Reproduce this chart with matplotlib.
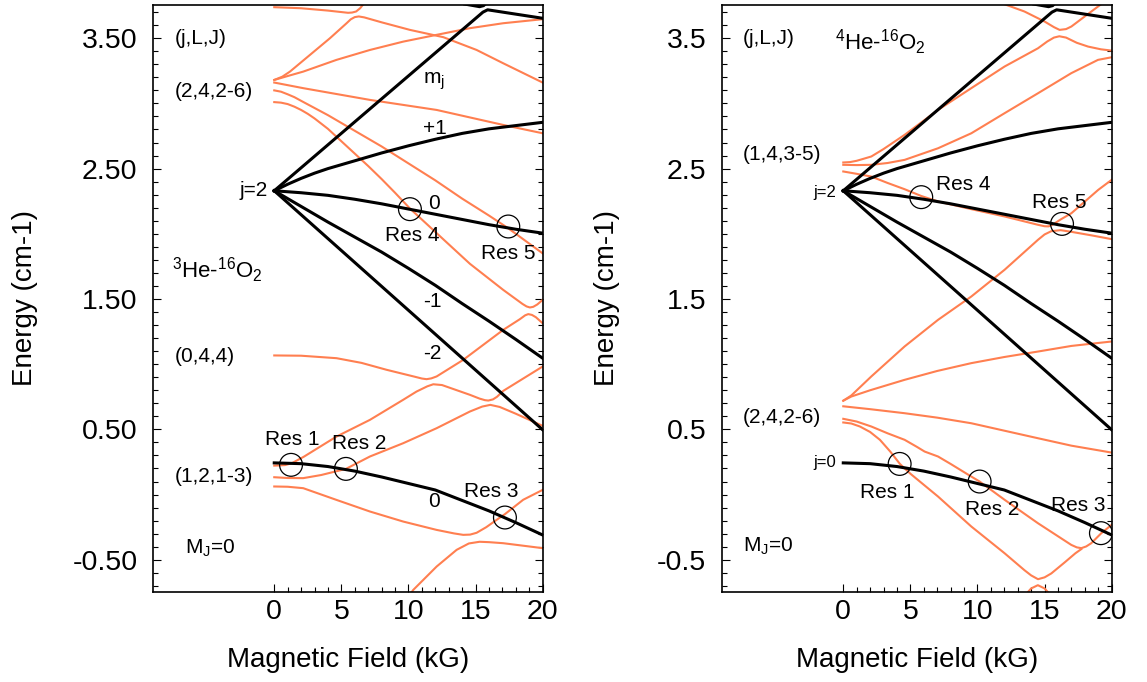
# Zeeman levels of He-O2 complexes, two panels (3He and 4He)

import matplotlib.pyplot as plt
import numpy as np

plt.rcParams['font.family'] = ['Liberation Sans', 'DejaVu Sans']
plt.rcParams['mathtext.default'] = 'regular'

ORANGE = '#ff7f50'

# ---- black curves, j=2 and j=0 manifolds (same in both panels) ----
blk_up_B = [0, 15.55, 15.9, 20]
blk_up_E = [2.33, 3.70, 3.718, 3.653]
blk_top_B = [14.2, 15.3, 15.6, 16.1]
blk_top_E = [3.762, 3.742, 3.75, 3.80]
blk_p1_B = [0, 1, 2, 3, 4, 6, 8, 10, 12, 14, 16, 18, 20]
blk_p1_E = [2.33, 2.38, 2.425, 2.465, 2.50, 2.56, 2.62, 2.675, 2.725, 2.77, 2.805, 2.83, 2.855]
blk_0_B = [0, 2, 4, 6, 8, 10, 12, 14, 16, 18, 20]
blk_0_E = [2.33, 2.315, 2.295, 2.265, 2.23, 2.19, 2.15, 2.11, 2.07, 2.035, 2.005]
blk_m1_B = [0, 2, 4, 6, 8, 10, 12, 14, 16, 18, 20]
blk_m1_E = [2.33, 2.21, 2.09, 1.975, 1.86, 1.735, 1.605, 1.465, 1.33, 1.19, 1.046]
blk_m2_B = [0, 20]
blk_m2_E = [2.33, 0.497]
blk_j0_B = [0, 2, 4, 6, 8, 10, 12, 14, 16, 18, 20]
blk_j0_E = [0.243, 0.237, 0.215, 0.18, 0.135, 0.085, 0.035, -0.045, -0.125, -0.215, -0.31]

# ---- orange curves, 3He-16O2 ----
l_top_B = [0, 2, 4, 5.5, 5.8, 6.1, 6.4, 6.9]
l_top_E = [3.738, 3.73, 3.712, 3.695, 3.697, 3.705, 3.73, 3.795]
l_steep_B = [0, 0.6, 1.17, 2.66, 4.15, 5.39, 5.7, 6.0, 6.3, 6.7, 8, 10.11, 12.6, 15.08, 17.06, 20]
l_steep_E = [3.18, 3.205, 3.244, 3.372, 3.50, 3.615, 3.645, 3.662, 3.667, 3.66, 3.622, 3.564, 3.508, 3.41, 3.308, 3.16]
l_rise_B = [0, 1, 2.16, 4.64, 7.13, 9.61, 12.1, 14.58, 17.06, 20]
l_rise_E = [3.18, 3.21, 3.244, 3.334, 3.41, 3.474, 3.526, 3.577, 3.615, 3.646]
l_4_B = [0, 2.16, 7.13, 12.1, 17.06, 20]
l_4_E = [3.16, 3.117, 3.027, 2.95, 2.835, 2.771]
l_a_B = [0, 0.5, 1, 1.5, 2, 3, 4, 6, 8, 10, 12, 14, 16, 17.4, 20]
l_a_E = [3.10, 3.09, 3.07, 3.048, 3.02, 2.965, 2.91, 2.79, 2.67, 2.54, 2.41, 2.27, 2.14, 2.045, 1.85]
l_b_B = [0, 0.5, 1, 1.5, 2, 2.5, 3, 3.5, 4, 5, 6, 7, 8, 9, 10.1, 12.1, 14.58,
         17.06, 18.5, 18.8, 19.05, 19.3, 19.6, 20]
l_b_E = [3.01, 3.006, 2.995, 2.975, 2.95, 2.92, 2.885, 2.845, 2.805, 2.71, 2.615, 2.52, 2.42, 2.315, 2.195, 2.005, 1.77,
         1.57, 1.462, 1.443, 1.435, 1.44, 1.458, 1.493]
l_044_B = [0, 2, 4.64, 6.5, 8.37, 10.5, 11.0, 11.35, 11.7, 12.1, 14.08, 17.06, 18.3, 18.7, 18.93, 19.2, 19.5, 20]
l_044_E = [1.067, 1.065, 1.046, 1.01, 0.957, 0.903, 0.89, 0.885, 0.891, 0.906, 1.033, 1.263, 1.345, 1.375, 1.384, 1.378, 1.36, 1.314]
l_r1_B = [0, 0.8, 1.3, 2.2, 3.3, 4.64, 7.13, 9.61, 10.6, 11.4, 11.85, 12.5, 14.58, 15.3, 15.7,
          15.95, 16.3, 16.6, 17.06, 20]
l_r1_E = [0.222, 0.226, 0.24, 0.29, 0.36, 0.445, 0.573, 0.727, 0.79, 0.83, 0.846, 0.84, 0.765, 0.736, 0.724,
          0.721, 0.73, 0.75, 0.795, 0.982]
l_r2_B = [0, 1, 2.16, 3.5, 5.34, 7.13, 9.61, 12.1, 14.58, 15.5, 16.1, 16.8, 18, 20]
l_r2_E = [0.133, 0.127, 0.126, 0.15, 0.197, 0.292, 0.394, 0.509, 0.637, 0.675, 0.688, 0.672, 0.62, 0.527]
l_c_B = [0, 1, 2.16, 4.64, 7.13, 9.61, 12.1, 13.4, 14.08, 14.6, 15.08, 15.8, 16.57, 17.19, 18.55, 20]
l_c_E = [0.062, 0.06, 0.049, -0.041, -0.13, -0.207, -0.271, -0.298, -0.309, -0.307, -0.293, -0.25, -0.194, -0.15, -0.04, 0.036]
l_d_B = [9.9, 10.36, 12.1, 13.59, 14.5, 15.3, 16, 17.06, 20]
l_d_E = [-0.80, -0.731, -0.552, -0.424, -0.375, -0.362, -0.365, -0.373, -0.411]

# ---- orange curves, 4He-16O2 ----
r_top_B = [11.5, 13.5, 15.0, 15.7, 16.12, 16.6, 17.0, 17.98, 18.98, 19.47]
r_top_E = [3.78, 3.705, 3.628, 3.585, 3.564, 3.57, 3.59, 3.666, 3.743, 3.78]
r_rise1_B = [0, 0.5, 1, 1.5, 2.09, 3, 4.57, 7.06, 9.54, 12.02, 14.51, 15.2, 15.7, 16.1, 16.6, 17.4, 18.24, 19.2, 20]
r_rise1_E = [2.547, 2.55, 2.56, 2.575, 2.593, 2.65, 2.759, 2.95, 3.117, 3.283, 3.423, 3.475, 3.505, 3.515, 3.505, 3.465, 3.436, 3.415, 3.405]
r_rise2_B = [0, 1, 2.09, 3.3, 4.57, 7.06, 9.54, 12.02, 14.51, 16.99, 18.98, 20]
r_rise2_E = [2.529, 2.527, 2.529, 2.543, 2.567, 2.656, 2.771, 2.925, 3.078, 3.232, 3.334, 3.354]
r_desc_B = [0, 1, 2.09, 3.3, 4.57, 5.81, 7.06, 9.54, 12.02, 14.51, 15.0, 15.3, 15.6, 16.2, 17, 19, 20]
r_desc_E = [2.478, 2.46, 2.439, 2.39, 2.342, 2.29, 2.248, 2.189, 2.133, 2.069, 2.058, 2.057, 2.07, 2.11, 2.158, 2.337, 2.414]
r_cross_B = [0, 0.6, 2.09, 4.57, 7.06, 9.54, 12.02, 14.51, 15.0, 15.5, 16.2, 17, 18.5, 20]
r_cross_E = [0.72, 0.76, 0.906, 1.136, 1.34, 1.519, 1.724, 1.954, 1.995, 2.02, 2.028, 2.015, 1.988, 1.959]
r_slow_B = [0, 0.6, 2, 4.57, 7, 9.54, 12, 14.51, 17, 20]
r_slow_E = [0.72, 0.752, 0.80, 0.88, 0.948, 1.008, 1.055, 1.097, 1.14, 1.174]
r_flat_B = [0, 2, 4.57, 7, 9.54, 12, 14.51, 17, 20]
r_flat_E = [0.677, 0.655, 0.624, 0.59, 0.547, 0.49, 0.432, 0.375, 0.322]
r_d1_B = [0, 1, 2.09, 3.3, 4.57, 5.5, 6.06, 7.06, 8, 9.54, 10.16, 12.02, 14.51, 16.99, 17.4, 17.74, 18.1, 18.48, 19.23, 20]
r_d1_E = [0.581, 0.56, 0.522, 0.47, 0.42, 0.365, 0.33, 0.292, 0.235, 0.138, 0.10, -0.04, -0.22, -0.386, -0.405, -0.411, -0.398, -0.373, -0.296, -0.232]
r_d2_B = [0, 0.6, 1.24, 2, 2.73, 3.5, 4.22, 5, 7.06, 9.54, 12.02, 13.5, 14.0, 14.51, 15.0, 15.5, 16.5, 17.3, 17.74]
r_d2_E = [0.553, 0.545, 0.522, 0.48, 0.42, 0.33, 0.235, 0.16, -0.015, -0.245, -0.45, -0.58, -0.62, -0.649, -0.635, -0.605, -0.52, -0.45, -0.418]
r_arch_B = [13.3, 14.0, 14.5, 15.0, 15.7]
r_arch_E = [-0.80, -0.72, -0.695, -0.72, -0.80]

# resonance circles
l_res_B = [1.25, 5.34, 17.19, 10.11, 17.44]
l_res_E = [0.228, 0.197, -0.176, 2.189, 2.056]
r_res_B = [4.2, 10.16, 19.2, 5.81, 16.3]
r_res_E = [0.235, 0.10, -0.296, 2.281, 2.076]
res_names = ['Res 1', 'Res 2', 'Res 3', 'Res 4', 'Res 5']

# where the res labels sit (left edge, vertical centre)
l_lab_B = [-0.7, 4.27, 14.13, 8.25, 15.38]
l_lab_E = [0.42, 0.394, 0.023, 1.987, 1.846]
r_lab_B = [1.22, 9.04, 15.5, 6.93, 14.06]
r_lab_E = [0.018, -0.117, -0.084, 2.375, 2.242]

yticks = [-0.5, 0.5, 1.5, 2.5, 3.5]
l_yticklabels = ['-0.50', '0.50', '1.50', '2.50', '3.50']
r_yticklabels = ['-0.5', '0.5', '1.5', '2.5', '3.5']

black_curves = [(blk_up_B, blk_up_E), (blk_top_B, blk_top_E), (blk_p1_B, blk_p1_E),
                (blk_0_B, blk_0_E), (blk_m1_B, blk_m1_E), (blk_m2_B, blk_m2_E),
                (blk_j0_B, blk_j0_E)]
left_curves = [(l_top_B, l_top_E), (l_steep_B, l_steep_E), (l_rise_B, l_rise_E),
               (l_4_B, l_4_E), (l_a_B, l_a_E), (l_b_B, l_b_E), (l_044_B, l_044_E),
               (l_r1_B, l_r1_E), (l_r2_B, l_r2_E), (l_c_B, l_c_E), (l_d_B, l_d_E)]
right_curves = [(r_top_B, r_top_E), (r_rise1_B, r_rise1_E), (r_rise2_B, r_rise2_E),
                (r_desc_B, r_desc_E), (r_cross_B, r_cross_E), (r_slow_B, r_slow_E),
                (r_flat_B, r_flat_E), (r_d1_B, r_d1_E), (r_d2_B, r_d2_E),
                (r_arch_B, r_arch_E)]


def setup(ax, ylabels, ylab_x):
    ax.set_xlim(-9.06, 20)
    ax.set_ylim(-0.745, 3.755)
    ax.set_xticks([0, 5, 10, 15, 20])
    ax.set_xticks(np.arange(0, 21, 1), minor=True)
    ax.set_yticks(yticks)
    ax.set_yticklabels(ylabels)
    ax.set_yticks(np.arange(-0.7, 3.75, 0.1), minor=True)
    ax.tick_params(which='both', direction='in', left=True, right=True,
                   top=False, bottom=True, width=0.8)
    ax.tick_params(which='major', length=6)
    ax.tick_params(which='minor', length=3.3)
    ax.tick_params(axis='y', which='major', labelsize=20.5, pad=11)
    ax.tick_params(axis='x', which='major', labelsize=20.5, pad=5)
    for sp in ax.spines.values():
        sp.set_linewidth(1.2)
    ax.set_xlabel('Magnetic Field (kG)', fontsize=20)
    ax.set_ylabel('Energy (cm-1)', fontsize=20)
    ax.xaxis.set_label_coords(0.5, -0.094)
    ax.yaxis.set_label_coords(ylab_x, 0.5)


fig = plt.figure(figsize=(11.47, 6.82), dpi=100)
ax1 = fig.add_axes([0.1331, 0.1324, 0.340, 0.8603])
ax2 = fig.add_axes([0.6292, 0.1324, 0.340, 0.8603])

for ax, curves, rb, re in [(ax1, left_curves, l_res_B, l_res_E),
                           (ax2, right_curves, r_res_B, r_res_E)]:
    for b, e in curves:
        ax.plot(b, e, color=ORANGE, lw=1.5, zorder=2)
    for b, e in black_curves:
        ax.plot(b, e, color='black', lw=2.2, zorder=3)
    ax.scatter(rb, re, s=270, facecolors='none', edgecolors='black',
               linewidths=0.9, zorder=4)

setup(ax1, l_yticklabels, -0.294)
setup(ax2, r_yticklabels, -0.262)

# left panel text
fs = 15
ax1.text(-7.4, 3.50, '(j,L,J)', fontsize=fs, va='center')
ax1.text(-7.4, 3.088, '(2,4,2-6)', fontsize=fs, va='center')
ax1.text(-0.5, 2.33, 'j=2', fontsize=fs, va='center', ha='right')
ax1.text(-7.6, 1.72, r'$^3$He-$^{16}$O$_2$', fontsize=16, va='center')
ax1.text(-7.4, 1.056, '(0,4,4)', fontsize=fs, va='center')
ax1.text(-7.4, 0.136, '(1,2,1-3)', fontsize=fs, va='center')
ax1.text(-6.65, -0.41, 'M$_J$=0', fontsize=fs, va='center')
ax1.text(11.1, 3.17, 'm$_j$', fontsize=fs, va='center')
ax1.text(11.1, 2.805, '+1', fontsize=fs, va='center')
ax1.text(11.5, 2.235, '0', fontsize=fs, va='center')
ax1.text(11.1, 1.481, '-1', fontsize=fs, va='center')
ax1.text(11.1, 1.084, '-2', fontsize=fs, va='center')
ax1.text(11.5, -0.053, '0', fontsize=fs, va='center')
for name, b, e in zip(res_names, l_lab_B, l_lab_E):
    ax1.text(b, e, name, fontsize=fs, va='center')

# right panel text
ax2.text(-7.47, 3.50, '(j,L,J)', fontsize=fs, va='center')
ax2.text(-0.62, 3.47, r'$^4$He-$^{16}$O$_2$', fontsize=16, va='center')
ax2.text(-7.47, 2.605, '(1,4,3-5)', fontsize=fs, va='center')
ax2.text(-0.55, 2.316, 'j=2', fontsize=12, va='center', ha='right')
ax2.text(-7.47, 0.594, '(2,4,2-6)', fontsize=fs, va='center')
ax2.text(-0.55, 0.245, 'j=0', fontsize=12, va='center', ha='right')
ax2.text(-7.47, -0.40, 'M$_J$=0', fontsize=fs, va='center')
for name, b, e in zip(res_names, r_lab_B, r_lab_E):
    ax2.text(b, e, name, fontsize=fs, va='center')

fig.savefig('out.png', dpi=100)
